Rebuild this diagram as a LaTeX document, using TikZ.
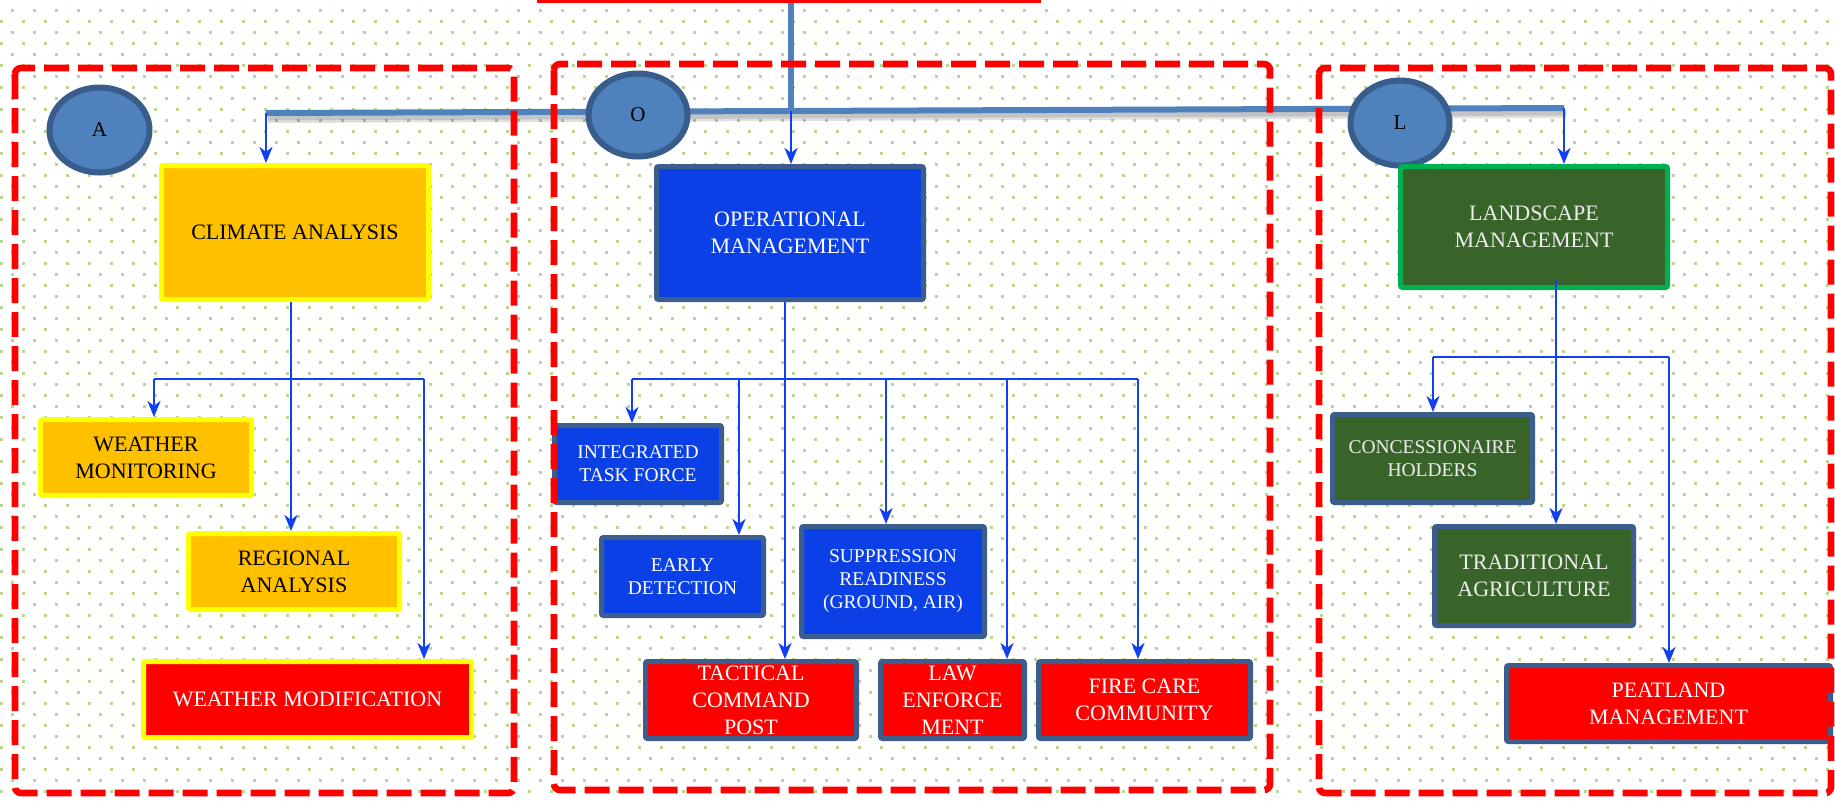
\documentclass[tikz,border=0pt]{standalone}
\usepackage{fontspec}
\setmainfont{Liberation Serif}
\usetikzlibrary{arrows.meta,shapes.geometric,calc}
\definecolor{dotc}{HTML}{BDD494}
\definecolor{steel}{HTML}{4F81BD}
\definecolor{circb}{HTML}{385D8A}
\definecolor{conn}{HTML}{1040F0}
\definecolor{yfill}{HTML}{FFC000}
\definecolor{ybord}{HTML}{FFFF00}
\definecolor{bfill}{HTML}{0A40E6}
\definecolor{bbord}{HTML}{3B5E8C}
\definecolor{rfill}{HTML}{FF0000}
\definecolor{gfill}{HTML}{38642A}
\definecolor{gbord}{HTML}{00B050}
\tikzset{
  sz/.style 2 args={minimum width=#1*0.5pt, minimum height=#2*0.5pt},
  cbox/.style={rectangle, rounded corners=1pt, line width=2.5pt, inner sep=0pt, align=center, font=\fontsize{11}{13.5}\selectfont},
  smallfont/.style={font=\fontsize{9.75}{11.5}\selectfont},
  ybox/.style={cbox, fill=yfill, draw=ybord, text=black},
  yrbox/.style={cbox, fill=rfill, draw=ybord, text=white},
  bbox/.style={cbox, fill=bfill, draw=bbord, text=white},
  rbox/.style={cbox, fill=rfill, draw=bbord, text=white},
  gbox/.style={cbox, fill=gfill, draw=bbord, text=white!93!black},
  lbox/.style={cbox, fill=gfill, draw=gbord, text=white!93!black},
  circ/.style={ellipse, fill=steel, draw=circb, line width=3pt, inner sep=0pt, text=black, font=\fontsize{10.5}{12}\selectfont},
  steelline/.style={draw=steel, line width=3pt},
  shadowline/.style={draw=black, line width=#1, opacity=0.12},
  wire/.style={draw=conn, line width=1.2pt},
  arr/.style={wire, -{Stealth[length=8pt, width=6.5pt, inset=2.4pt]}},
  zone/.style={draw=rfill, line width=3.3pt, dash pattern=on 12.5pt off 4.5pt, rounded corners=3pt},
  dotrow/.style={draw=dotc, line width=1.5pt, line cap=butt, dash pattern=on 1.5pt off 9.5pt},
}
\begin{document}
\begin{tikzpicture}[x=0.5pt, y=-0.5pt]
\useasboundingbox (0,0) rectangle (1835,800);
\clip (0,0) rectangle (1835,800);
\fill[white] (0,0) rectangle (1835,800);
\foreach \r in {0,2,...,72} {
  \draw[dotrow] (10.5,{\r*11+10.7}) -- (1840,{\r*11+10.7});
}
\foreach \r in {1,3,...,71} {
  \draw[dotrow] (-0.5,{\r*11+10.7}) -- (1840,{\r*11+10.7});
}

% partial box at the top
\node[draw=rfill, line width=1.5pt, sz={501}{82}, inner sep=0pt] (topbox) at (788.5,-40) {};

% main steel line
\coordinate (jA) at (266,113);
\coordinate (jO) at (791,111);
\coordinate (jL) at (1564,108);
\draw[shadowline=4pt] ([shift={(2,6)}]jA) -- ([shift={(2,6)}]jL);
\draw[shadowline=2.5pt] ([shift={(2,5)}]jA) -- ([shift={(2,5)}]jL);
\draw[steelline] (topbox.south -| jO) -- (jO);
\draw[steelline] (jA) -- (jL);

% circles
\node[circ, sz={100}{85}] (cA) at (99.5,130) {A};
\node[circ, sz={99}{83}] (cO) at (638,115) {O};
\node[circ, sz={99}{85}] (cL) at (1400,123) {L};

% A section
\node[ybox, sz={267}{134}] (climate) at (295,232.5) {CLIMATE ANALYSIS};
\node[ybox, sz={211}{76}] (wmon) at (146,457.5) {WEATHER\\MONITORING};
\node[ybox, sz={211}{76}] (regional) at (294,571.5) {REGIONAL\\ANALYSIS};
\node[yrbox, sz={328}{76}] (wmod) at (307.5,699.5) {WEATHER MODIFICATION};

% O section
\node[bbox, sz={267}{133}] (opm) at (790,233) {OPERATIONAL\\MANAGEMENT};
\node[bbox, smallfont, sz={167}{77}] (itf) at (638,464) {INTEGRATED\\TASK FORCE};
\node[bbox, smallfont, sz={162}{78}] (early) at (682.5,576.5) {EARLY\\DETECTION};
\node[bbox, smallfont, sz={183}{110}] (supp) at (893,581.5) {SUPPRESSION\\READINESS\\(GROUND, AIR)};
\node[rbox, sz={211}{77}] (tcp) at (751,700) {TACTICAL\\COMMAND\\POST};
\node[rbox, sz={144}{77}] (law) at (952.5,700) {LAW\\ENFORCE\\MENT};
\node[rbox, sz={212}{77}] (fire) at (1144.5,700) {FIRE CARE\\COMMUNITY};

% L section
\node[lbox, sz={267}{121}] (land) at (1534,227) {LANDSCAPE\\MANAGEMENT};
\node[gbox, smallfont, sz={200}{88}] (conc) at (1432.5,458.5) {CONCESSIONAIRE\\HOLDERS};
\node[gbox, sz={199}{99}] (trad) at (1534,576) {TRADITIONAL\\AGRICULTURE};
\node[rbox, sz={324}{76}] (peat) at (1668.5,703.5) {PEATLAND\\MANAGEMENT};

% connectors A
\draw[arr] (jA) -- (jA |- climate.north);
\coordinate (tA) at (291,379);
\coordinate (bA1) at (154,379);
\coordinate (bA3) at (424,379);
\draw[wire] (climate.south -| tA) -- (tA);
\draw[wire] (bA1) -- (bA3);
\draw[arr] (bA1) -- (bA1 |- wmon.north);
\draw[arr] (tA) -- (tA |- regional.north);
\draw[arr] (bA3) -- (bA3 |- wmod.north);

% connectors O
\draw[arr] (jO) -- (jO |- opm.north);
\coordinate (tO) at (785,379);
\coordinate (bO1) at (632,379);
\coordinate (bO2) at (739,379);
\coordinate (bO4) at (886,379);
\coordinate (bO5) at (1007,379);
\coordinate (bO6) at (1138,379);
\draw[wire] (opm.south -| tO) -- (tO);
\draw[wire] (bO1) -- (bO6);
\draw[arr] (bO1) -- (bO1 |- itf.north);
\draw[arr] (bO2) -- (bO2 |- early.north);
\draw[arr] (tO) -- (tO |- tcp.north);
\draw[arr] (bO4) -- (bO4 |- supp.north);
\draw[arr] (bO5) -- (bO5 |- law.north);
\draw[arr] (bO6) -- (bO6 |- fire.north);

% connectors L
\draw[arr] (jL) -- (jL |- land.north);
\coordinate (tL) at (1556,357);
\coordinate (bL1) at (1433,357);
\coordinate (bL3) at (1669,357);
\draw[arr] ($(land.south -| tL)+(0,-10)$) -- (tL |- trad.north);
\draw[wire] (bL1) -- (bL3);
\draw[arr] (bL1) -- (bL1 |- conc.north);
\draw[arr] (bL3) -- (bL3 |- peat.north);

% dashed zones
\draw[zone] (15,68) rectangle (514,793);
\draw[zone] (554,64) rectangle (1270,790);
\draw[zone] (1319,68) rectangle (1831,793);
\end{tikzpicture}
\end{document}
